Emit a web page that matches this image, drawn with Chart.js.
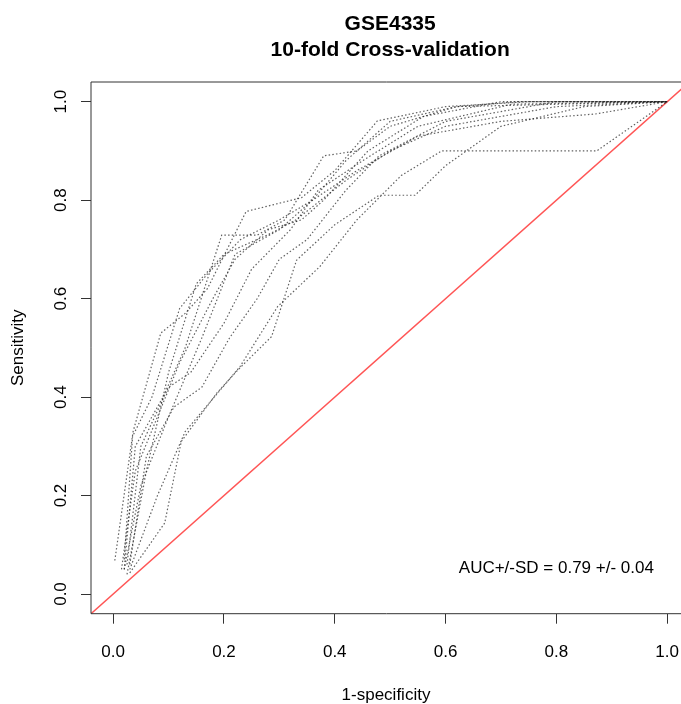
<!DOCTYPE html>
<html>
<head>
<meta charset="utf-8">
<title>GSE4335 10-fold Cross-validation</title>
<script src="https://cdn.jsdelivr.net/npm/chart.js@4.4.0/dist/chart.umd.min.js"></script>
<style>
  html, body { margin: 0; padding: 0; background: #fff; overflow: hidden; }
  #wrap { width: 681px; height: 704px; }
</style>
</head>
<body>
<div id="wrap"><canvas id="roc" width="681" height="704"></canvas></div>
<script>
// one ROC curve per fold (1-specificity, sensitivity)
const folds = ["fold 1", "fold 2", "fold 3", "fold 4", "fold 5",
               "fold 6", "fold 7", "fold 8", "fold 9", "fold 10"];

const fpr = [
  [0.003, 0.036, 0.086, 0.13, 0.17, 0.24, 0.34, 0.40, 0.477, 0.60, 0.75, 1.0],
  [0.02, 0.04, 0.09, 0.13, 0.196, 0.26, 0.31, 0.38, 0.44, 0.50, 0.62, 0.73, 1.0],
  [0.025, 0.06, 0.10, 0.15, 0.20, 0.28, 0.33, 0.42, 0.50, 0.60, 0.80, 1.0],
  [0.02, 0.05, 0.10, 0.16, 0.22, 0.30, 0.36, 0.44, 0.55, 0.70, 0.87, 1.0],
  [0.03, 0.093, 0.123, 0.187, 0.225, 0.286, 0.331, 0.40, 0.48, 0.545, 0.60, 0.70, 0.85, 1.0],
  [0.03, 0.08, 0.13, 0.229, 0.297, 0.373, 0.44, 0.52, 0.593, 0.873, 1.0],
  [0.025, 0.05, 0.10, 0.14, 0.20, 0.25, 0.32, 0.37, 0.45, 0.55, 0.72, 1.0],
  [0.02, 0.035, 0.07, 0.12, 0.17, 0.23, 0.30, 0.36, 0.42, 0.50, 0.62, 1.0],
  [0.03, 0.06, 0.11, 0.16, 0.21, 0.26, 0.30, 0.35, 0.42, 0.48, 0.60, 0.80, 1.0],
  [0.015, 0.04, 0.08, 0.12, 0.18, 0.22, 0.28, 0.34, 0.38, 0.46, 0.56, 0.70, 1.0]
];

const tpr = [
  [0.068, 0.33, 0.53, 0.57, 0.62, 0.777, 0.805, 0.86, 0.961, 0.99, 1.0, 1.0],
  [0.05, 0.30, 0.40, 0.50, 0.729, 0.729, 0.76, 0.89, 0.90, 0.95, 0.99, 1.0, 1.0],
  [0.04, 0.25, 0.45, 0.63, 0.69, 0.73, 0.76, 0.84, 0.90, 0.95, 0.99, 1.0],
  [0.05, 0.22, 0.36, 0.52, 0.69, 0.74, 0.80, 0.86, 0.93, 0.96, 0.975, 1.0],
  [0.043, 0.144, 0.31, 0.408, 0.455, 0.523, 0.678, 0.75, 0.81, 0.81, 0.87, 0.95, 0.99, 1.0],
  [0.05, 0.20, 0.33, 0.462, 0.584, 0.665, 0.76, 0.85, 0.90, 0.90, 1.0],
  [0.06, 0.30, 0.42, 0.45, 0.55, 0.66, 0.74, 0.82, 0.88, 0.95, 0.995, 1.0],
  [0.07, 0.32, 0.40, 0.58, 0.65, 0.72, 0.76, 0.80, 0.88, 0.96, 0.99, 1.0],
  [0.06, 0.28, 0.38, 0.42, 0.52, 0.60, 0.68, 0.72, 0.82, 0.89, 0.96, 1.0, 1.0],
  [0.05, 0.25, 0.36, 0.47, 0.60, 0.68, 0.74, 0.76, 0.80, 0.90, 0.97, 1.0, 1.0]
];

// diagonal reference line (abline 0,1) across the whole plot range
const chanceX = [-0.04, 1.04];
const chanceY = [-0.04, 1.04];

const xTicks = [0, 0.2, 0.4, 0.6, 0.8, 1.0];
const yTicks = [0, 0.2, 0.4, 0.6, 0.8, 1.0];

const aucText = "AUC+/-SD = 0.79 +/- 0.04";
const aucX = 0.80;
const aucY = 0.053;

// title is centred on the full R plot region (which runs past the right edge)
const titleCentreX = 0.5;

Chart.defaults.font.family = "'Liberation Sans', Arial, sans-serif";
Chart.defaults.color = "#000";

var datasets = fpr.map(function (xs, i) {
  return {
    label: folds[i],
    data: xs.map(function (x, j) { return { x: x, y: tpr[i][j] }; }),
    showLine: true,
    borderColor: "rgba(30,30,30,0.7)",
    borderWidth: 1.2,
    borderDash: [1.5, 2.2],
    pointRadius: 0,
    fill: false,
    tension: 0
  };
});
datasets.push({
  label: "chance",
  data: chanceX.map(function (x, j) { return { x: x, y: chanceY[j] }; }),
  showLine: true,
  borderColor: "#ff5555",
  borderWidth: 1.5,
  pointRadius: 0,
  fill: false
});

// box around plot region, R style (right side falls outside the picture)
const boxPlugin = {
  id: "box",
  afterDraw: function (chart) {
    var a = chart.chartArea, ctx = chart.ctx;
    ctx.save();
    ctx.strokeStyle = "#333";
    ctx.lineWidth = 1;
    ctx.beginPath();
    ctx.moveTo(a.right + 5, a.top);
    ctx.lineTo(a.left, a.top);
    ctx.lineTo(a.left, a.bottom);
    ctx.lineTo(a.right + 5, a.bottom);
    ctx.stroke();
    ctx.restore();
  }
};

// y tick labels rotated like R (las = 0), plus the two-line title
const textPlugin = {
  id: "texts",
  afterDraw: function (chart) {
    var s = chart.scales.y, ctx = chart.ctx;
    ctx.save();
    ctx.font = "17px 'Liberation Sans', Arial, sans-serif";
    ctx.fillStyle = "#000";
    ctx.textAlign = "center";
    ctx.textBaseline = "middle";
    s.ticks.forEach(function (t) {
      ctx.save();
      ctx.translate(61, s.getPixelForValue(t.value));
      ctx.rotate(-Math.PI / 2);
      ctx.fillText(t.value.toFixed(1), 0, 0);
      ctx.restore();
    });
    ctx.font = "bold 21px 'Liberation Sans', Arial, sans-serif";
    var cx = chart.scales.x.getPixelForValue(titleCentreX);
    ctx.fillText("GSE4335", cx, 24);
    ctx.fillText("10-fold Cross-validation", cx, 50.5);
    ctx.restore();
  }
};

const aucPlugin = {
  id: "auc",
  afterDatasetsDraw: function (chart) {
    var ctx = chart.ctx;
    ctx.save();
    ctx.font = "17px 'Liberation Sans', Arial, sans-serif";
    ctx.fillStyle = "#000";
    ctx.textAlign = "center";
    ctx.textBaseline = "middle";
    ctx.fillText(aucText, chart.scales.x.getPixelForValue(aucX), chart.scales.y.getPixelForValue(aucY));
    ctx.restore();
  }
};

var ctx = document.getElementById("roc").getContext("2d");
var rocChart = new Chart(ctx, {
  type: "scatter",
  data: { datasets: datasets },
  plugins: [boxPlugin, textPlugin, aucPlugin],
  options: {
    responsive: false,
    animation: false,
    layout: { padding: { left: 0, right: 0, top: 82, bottom: 0 } },
    plugins: {
      legend: { display: false },
      tooltip: { enabled: false },
      title: { display: false }
    },
    scales: {
      x: {
        type: "linear",
        min: -0.04,
        max: 1.025,
        afterBuildTicks: function (s) { s.ticks = xTicks.map(function (v) { return { value: v }; }); },
        afterFit: function (s) {
          s.height = 90.3;
          s.paddingLeft = 0;
          s.paddingRight = 0;
        },
        ticks: {
          autoSkip: false,
          maxRotation: 0,
          padding: 18,
          font: { size: 17 },
          callback: function (v) { return Number(v).toFixed(1); }
        },
        grid: { drawOnChartArea: false, drawTicks: true, tickLength: 10, color: "#333", tickColor: "#333" },
        border: { display: false },
        title: { display: true, text: "1-specificity", font: { size: 17, lineHeight: 1 }, padding: { top: 0, bottom: 0 } }
      },
      y: {
        type: "linear",
        min: -0.04,
        max: 1.04,
        afterBuildTicks: function (s) { s.ticks = yTicks.map(function (v) { return { value: v }; }); },
        afterFit: function (s) {
          s.width = 91;
          s.paddingTop = 0;
          s.paddingBottom = 0;
        },
        ticks: { display: false },
        grid: { drawOnChartArea: false, drawTicks: true, tickLength: 10, color: "#333", tickColor: "#333" },
        border: { display: false },
        title: { display: true, text: "Sensitivity", font: { size: 17, lineHeight: 1.2 }, padding: { top: 8, bottom: 0 } }
      }
    }
  }
});
</script>
</body>
</html>
